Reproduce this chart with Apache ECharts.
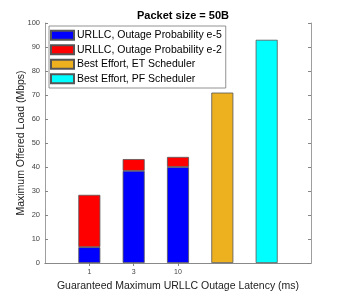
<!DOCTYPE html>
<html><head><meta charset="utf-8">
<script src="https://cdn.jsdelivr.net/npm/echarts@6/dist/echarts.min.js"></script>
<style>html,body{margin:0;padding:0;background:#fff}#c{width:344px;height:297px}</style>
</head><body><div id="c"></div>
<script>
// Axis slots 0..6; URLLC bars at slots 1..3, ET at 4, PF at 5
const tickLabels = ['1', '3', '10'];
const slots = ['', '1', '3', '10', 'ET', 'PF', ''];
const urllcE5 = [6.6, 38.4, 40.0];
const urllcE2Extra = [21.8, 4.9, 4.2];
const etValue = 71.0;
const pfValue = 93.0;

const chart = echarts.init(document.getElementById('c'), null, {renderer: 'canvas'});
const axisColor = '#858585';
const border = {borderColor: '#555', borderWidth: 0.8};
const F = 'Liberation Sans, Arial, sans-serif';
const showTick = (i) => i >= 1 && i <= tickLabels.length;
const blueData = slots.map((s, i) => showTick(i) ? urllcE5[i - 1] : '-');
const redData = slots.map((s, i) => showTick(i) ? urllcE2Extra[i - 1] : '-');
const etData = slots.map(s => s === 'ET' ? etValue : '-');
const pfData = slots.map(s => s === 'PF' ? pfValue : '-');
const xBase = {
  type: 'category', data: slots, boundaryGap: false,
  axisLine: {lineStyle: {color: axisColor, width: 0.8}},
  axisTick: {inside: true, length: 3, interval: (i) => showTick(i), lineStyle: {color: axisColor}},
  splitLine: {show: false}
};
chart.setOption({
  animation: false,
  title: {text: 'Packet size = 50B', left: 178, top: 5, textAlign: 'center',
    textStyle: {fontFamily: F, fontSize: 11, fontWeight: 'bold', color: '#000'}},
  grid: {left: 45, right: 33, top: 23, bottom: 33},
  legend: {
    orient: 'vertical', left: 49, top: 26, padding: [3, 4, 3, 1], itemGap: 2,
    itemWidth: 23, itemHeight: 9, icon: 'rect',
    borderColor: '#777', borderWidth: 0.8, backgroundColor: '#fff',
    textStyle: {fontFamily: F, fontSize: 10.5, lineHeight: 12.5, color: '#000', padding: [0, 0, 0, -2]},
    data: ['URLLC, Outage Probability e-5', 'URLLC, Outage Probability e-2', 'Best Effort, ET Scheduler', 'Best Effort, PF Scheduler']
  },
  xAxis: [Object.assign({}, xBase, {
    position: 'bottom',
    name: 'Guaranteed Maximum URLLC Outage Latency (ms)', nameLocation: 'middle', nameGap: 18,
    nameMoveOverlap: false,
    nameTextStyle: {fontFamily: F, fontSize: 10.5, color: '#222'},
    axisLabel: {interval: (i) => showTick(i), formatter: (v) => tickLabels.indexOf(v) >= 0 ? v : '',
      fontFamily: F, fontSize: 7, color: '#444', margin: 6}
  }), Object.assign({}, xBase, {position: 'top', axisLabel: {show: false}})],
  yAxis: [{
    type: 'value', min: 0, max: 100, interval: 10, position: 'left',
    name: 'Maximum Offered Load (Mbps)', nameLocation: 'middle', nameGap: 18,
    nameMoveOverlap: false,
    nameTextStyle: {fontFamily: F, fontSize: 10.5, color: '#222'},
    axisLine: {show: true, lineStyle: {color: axisColor, width: 0.8}},
    axisTick: {show: true, inside: true, length: 3, lineStyle: {color: axisColor}},
    axisLabel: {fontFamily: F, fontSize: 7.5, color: '#444', margin: 5},
    splitLine: {show: false}
  }, {
    type: 'value', min: 0, max: 100, interval: 10, position: 'right',
    axisLine: {show: true, lineStyle: {color: axisColor, width: 0.8}},
    axisTick: {show: true, inside: true, length: 3, lineStyle: {color: axisColor}},
    axisLabel: {show: false}, splitLine: {show: false}
  }],
  series: [
    {name: 'URLLC, Outage Probability e-5', type: 'bar', stack: 'u', barWidth: 22,
      itemStyle: Object.assign({color: '#0000ff'}, border), data: blueData},
    {name: 'URLLC, Outage Probability e-2', type: 'bar', stack: 'u', barWidth: 22,
      itemStyle: Object.assign({color: '#ff0000'}, border), data: redData},
    {name: 'Best Effort, ET Scheduler', type: 'bar', stack: 'u', barWidth: 22,
      itemStyle: Object.assign({color: '#EDB120'}, border), data: etData},
    {name: 'Best Effort, PF Scheduler', type: 'bar', stack: 'u', barWidth: 22,
      itemStyle: Object.assign({color: '#00ffff'}, border), data: pfData}
  ]
});
</script></body></html>
